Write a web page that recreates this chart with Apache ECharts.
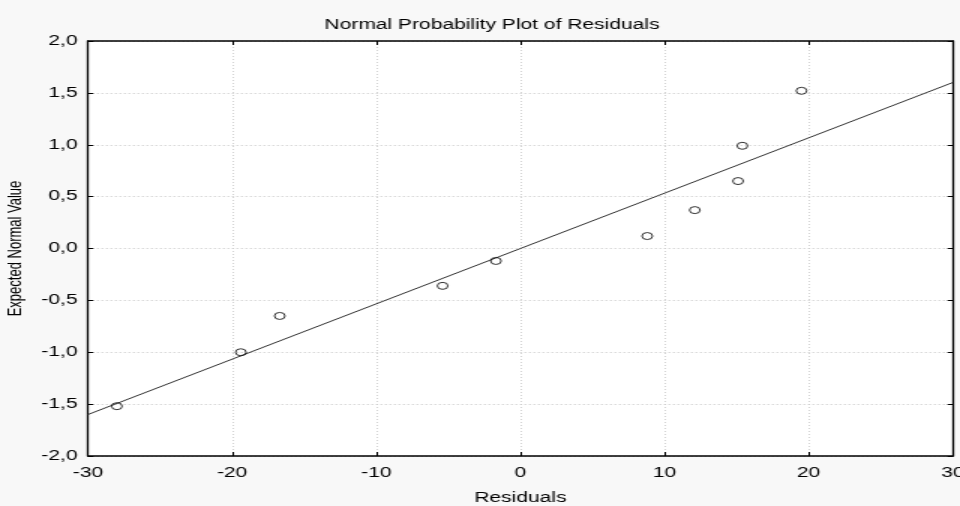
<!DOCTYPE html>
<html>
<head>
<meta charset="utf-8">
<script src="https://cdn.jsdelivr.net/npm/echarts@6/dist/echarts.min.js"></script>
<style>
  html, body { margin: 0; padding: 0; background: #f8f8f8; overflow: hidden; }
  /* the source picture is stretched sideways, so draw narrow and widen it */
  #chart { width: 640px; height: 506px; transform: scaleX(1.5); transform-origin: 0 0; }
</style>
</head>
<body>
<div id="chart"></div>
<script>
// residuals vs expected normal values
var residuals = [-28.0, -19.4, -16.7, -5.4, -1.7, 8.8, 12.1, 15.1, 15.4, 19.5];
var expectedNormal = [-1.52, -1.0, -0.65, -0.36, -0.12, 0.12, 0.37, 0.65, 0.99, 1.52];
// fitted reference line end points
var lineX = [-30, 30];
var lineY = [-1.6, 1.6];

var points = residuals.map(function (r, i) { return [r, expectedNormal[i]]; });
var fitLine = lineX.map(function (x, i) { return [x, lineY[i]]; });

var font = "'Liberation Sans', Arial, sans-serif";
var comma = function (v) { return v.toFixed(1).replace('.', ','); };

var chart = echarts.init(document.getElementById('chart'));
chart.setOption({
    backgroundColor: '#f8f8f8',
    animation: false,
    title: {
        text: 'Normal Probability Plot of Residuals',
        left: 323,
        textAlign: 'center',
        top: 13,
        textStyle: { fontFamily: font, fontSize: 14, fontWeight: 'normal', color: '#000' }
    },
    grid: {
        left: 58.7, right: 4.8, top: 41, bottom: 50,
        outerBoundsMode: 'none',
        show: true, backgroundColor: '#fff', borderWidth: 0
    },
    xAxis: [{
        type: 'value', min: -30, max: 30, interval: 10,
        name: 'Residuals', nameLocation: 'middle', nameGap: 35,
        nameTextStyle: { fontFamily: font, fontSize: 14, color: '#000' },
        axisLine: { show: true, onZero: false, lineStyle: { color: '#000', width: 1.5 } },
        axisTick: { show: true, inside: true, length: 4, lineStyle: { color: '#000' } },
        axisLabel: { fontFamily: font, fontSize: 14, color: '#000', margin: 10 },
        splitLine: { show: true, lineStyle: { color: '#c8c8c8', width: 0.8, type: [1, 2] } }
    }, {
        type: 'value', min: -30, max: 30, interval: 10, position: 'top',
        axisLine: { show: true, onZero: false, lineStyle: { color: '#000', width: 1.5 } },
        axisTick: { show: true, inside: true, length: 4, lineStyle: { color: '#000' } },
        axisLabel: { show: false },
        splitLine: { show: false }
    }],
    yAxis: [{
        type: 'value', min: -2, max: 2, interval: 0.5,
        name: 'Expected Normal Value', nameLocation: 'middle', nameGap: 41,
        nameTextStyle: { fontFamily: font, fontSize: 13, color: '#000' },
        axisLine: { show: true, onZero: false, lineStyle: { color: '#000', width: 1.3 } },
        axisTick: { show: true, inside: true, length: 3.5, lineStyle: { color: '#000' } },
        axisLabel: { fontFamily: font, fontSize: 14, color: '#000', margin: 7, formatter: comma },
        splitLine: { show: true, lineStyle: { color: '#c8c8c8', type: [1, 2] } }
    }, {
        type: 'value', min: -2, max: 2, interval: 0.5, position: 'right',
        axisLine: { show: true, onZero: false, lineStyle: { color: '#000', width: 1.3 } },
        axisTick: { show: true, inside: true, length: 3.5, lineStyle: { color: '#000' } },
        axisLabel: { show: false },
        splitLine: { show: false }
    }],
    series: [{
        type: 'line',
        data: fitLine,
        symbol: 'none',
        lineStyle: { color: '#333', width: 1 },
        z: 2
    }, {
        type: 'scatter',
        data: points,
        symbol: 'circle',
        symbolSize: [7, 7],
        itemStyle: { color: 'rgba(255,255,255,0)', borderColor: '#000', borderWidth: 1 },
        z: 3
    }]
});
</script>
</body>
</html>
